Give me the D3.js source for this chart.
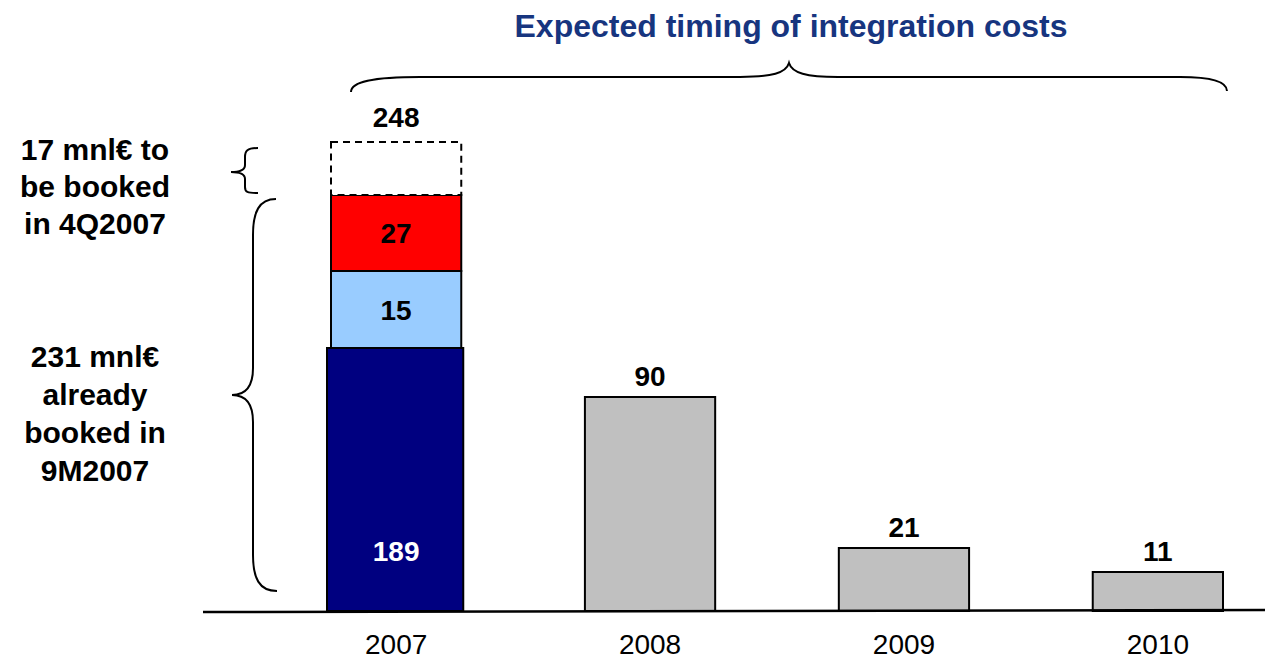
<!DOCTYPE html>
<html>
<head>
<meta charset="utf-8">
<script src="https://cdn.jsdelivr.net/npm/d3@7"></script>
<style>
  body { margin: 0; background: #fff; }
  text { font-family: "Liberation Sans", Arial, sans-serif; }
</style>
</head>
<body>
<svg id="chart" width="1265" height="661"></svg>
<script>
// DATA
var years = ['2007', '2008', '2009', '2010'];
var totals = [248, 90, 21, 11];
// 2007 breakdown, bottom to top
var segKeys = ['booked9M', 'lightBlue', 'red', 'toBook4Q'];
var segValues = [189, 15, 27, 17];
var noteTop = ['17 mnl€ to', 'be booked', 'in 4Q2007'];
var noteBottom = ['231 mnl€', 'already', 'booked in', '9M2007'];
var title = 'Expected timing of integration costs';

// STYLES
var segFill = { booked9M: '#000080', lightBlue: '#99CCFF', red: '#FF0000', toBook4Q: '#FFFFFF' };
var greyFill = '#C0C0C0';

var svg = d3.select('#chart');

// the slide is not drawn to scale, so the value axis is piecewise
var cum = Array.from(d3.cumsum(segValues));
var y = d3.scaleLinear()
          .domain([0, 11, 21, 90, 189, 204, 231, 248])
          .range([611, 572, 548, 397, 348, 271, 195, 142]);

var x = d3.scaleBand()
          .domain(years)
          .range([331, 1223])
          .paddingInner(0.487)
          .paddingOuter(0);

//.................................................................//
// TITLE
svg.append('text')
   .attr('x', 791).attr('y', 37)
   .attr('text-anchor', 'middle')
   .style('font-size', '32px').style('font-weight', 'bold')
   .style('fill', '#17357F')
   .text(title);

// BRACES
var brace = svg.append('g').style('fill', 'none').style('stroke', '#000').style('stroke-width', 2);
brace.append('path')
     .attr('d', 'M351,92 C351,82 372,77 420,77 L740,77 C772,77 786,73 789,63 C792,73 806,77 838,77 L1180,77 C1212,77 1227,82 1227,91');
brace.append('path')
     .attr('d', 'M258,148 C247,148 245,151 245,157 L245,165 C245,170 241,172 231,172 C241,172 245,174 245,179 L245,187 C245,192 247,193 258,193');
brace.append('path')
     .attr('d', 'M276,199 C259,199 253,212 253,235 L253,368 C253,386 246,395 232,395 C246,395 253,404 253,422 L253,555 C253,578 259,591 277,591');

//.................................................................//
// 2007 STACK
var bw = x.bandwidth();
svg.selectAll('rect.seg')
   .data(segKeys)
   .enter().append('rect')
   .attr('class', 'seg')
   .attr('x', function(d) { return d === 'booked9M' ? x('2007') - 4 : x('2007'); })
   .attr('y', function(d, i) { return y(cum[i]); })
   .attr('width', function(d) { return d === 'booked9M' ? bw + 6 : bw; })
   .attr('height', function(d, i) { return y(cum[i] - segValues[i]) - y(cum[i]); })
   .style('fill', function(d) { return segFill[d]; })
   .style('stroke', '#000')
   .style('stroke-width', 2)
   .style('stroke-dasharray', function(d) { return d === 'toBook4Q' ? '7,5' : null; });

// segment labels (not for dashed box)
svg.selectAll('text.segLabel')
   .data(segKeys.slice(0, 3))
   .enter().append('text')
   .attr('class', 'segLabel')
   .attr('x', x('2007') + bw / 2)
   .attr('y', function(d, i) {
       return i === 0 ? y(cum[0]) + (y(0) - y(cum[0])) * 0.77 : (y(cum[i]) + y(cum[i] - segValues[i])) / 2;
   })
   .attr('dy', '0.36em')
   .attr('text-anchor', 'middle')
   .style('font-size', '28px').style('font-weight', 'bold')
   .style('fill', function(d) { return d === 'booked9M' ? '#fff' : '#000'; })
   .text(function(d, i) { return segValues[i]; });

// GREY BARS 2008-2010
var later = years.slice(1).map(function(yr, i) { return { year: yr, value: totals[i + 1] }; });
svg.selectAll('rect.bar')
   .data(later)
   .enter().append('rect')
   .attr('class', 'bar')
   .attr('x', function(d) { return x(d.year); })
   .attr('y', function(d) { return y(d.value); })
   .attr('width', bw)
   .attr('height', function(d) { return y(0) - y(d.value); })
   .style('fill', greyFill)
   .style('stroke', '#000')
   .style('stroke-width', 2);

// total labels above bars
svg.selectAll('text.total')
   .data(years)
   .enter().append('text')
   .attr('class', 'total')
   .attr('x', function(d) { return x(d) + bw / 2; })
   .attr('y', function(d, i) { return y(totals[i]) - (i === 0 ? 15 : 11); })
   .attr('text-anchor', 'middle')
   .style('font-size', '28px').style('font-weight', 'bold')
   .text(function(d, i) { return totals[i]; });

//.................................................................//
// AXIS
svg.append('line')
   .attr('x1', 203).attr('y1', 612).attr('x2', 1265).attr('y2', 610)
   .style('stroke', '#000').style('stroke-width', 2.5);

var axis = svg.append('g')
   .attr('transform', 'translate(0,' + y(0) + ')')
   .call(d3.axisBottom(x).tickSize(0).tickPadding(23));
axis.select('.domain').remove();
axis.selectAll('text')
    .style('font-family', '"Liberation Sans", Arial, sans-serif')
    .style('font-size', '28px')
    .style('fill', '#000');

//.................................................................//
// SIDE NOTES
function note(lines, baseY, step) {
    svg.append('text')
       .attr('x', 95).attr('y', baseY)
       .attr('text-anchor', 'middle')
       .style('font-size', '30px').style('font-weight', 'bold')
       .selectAll('tspan')
       .data(lines)
       .enter().append('tspan')
       .attr('x', 95)
       .attr('dy', function(d, i) { return i === 0 ? 0 : step; })
       .text(function(d) { return d; });
}
note(noteTop, 160, 37);
note(noteBottom, 367, 38);
</script>
</body>
</html>
